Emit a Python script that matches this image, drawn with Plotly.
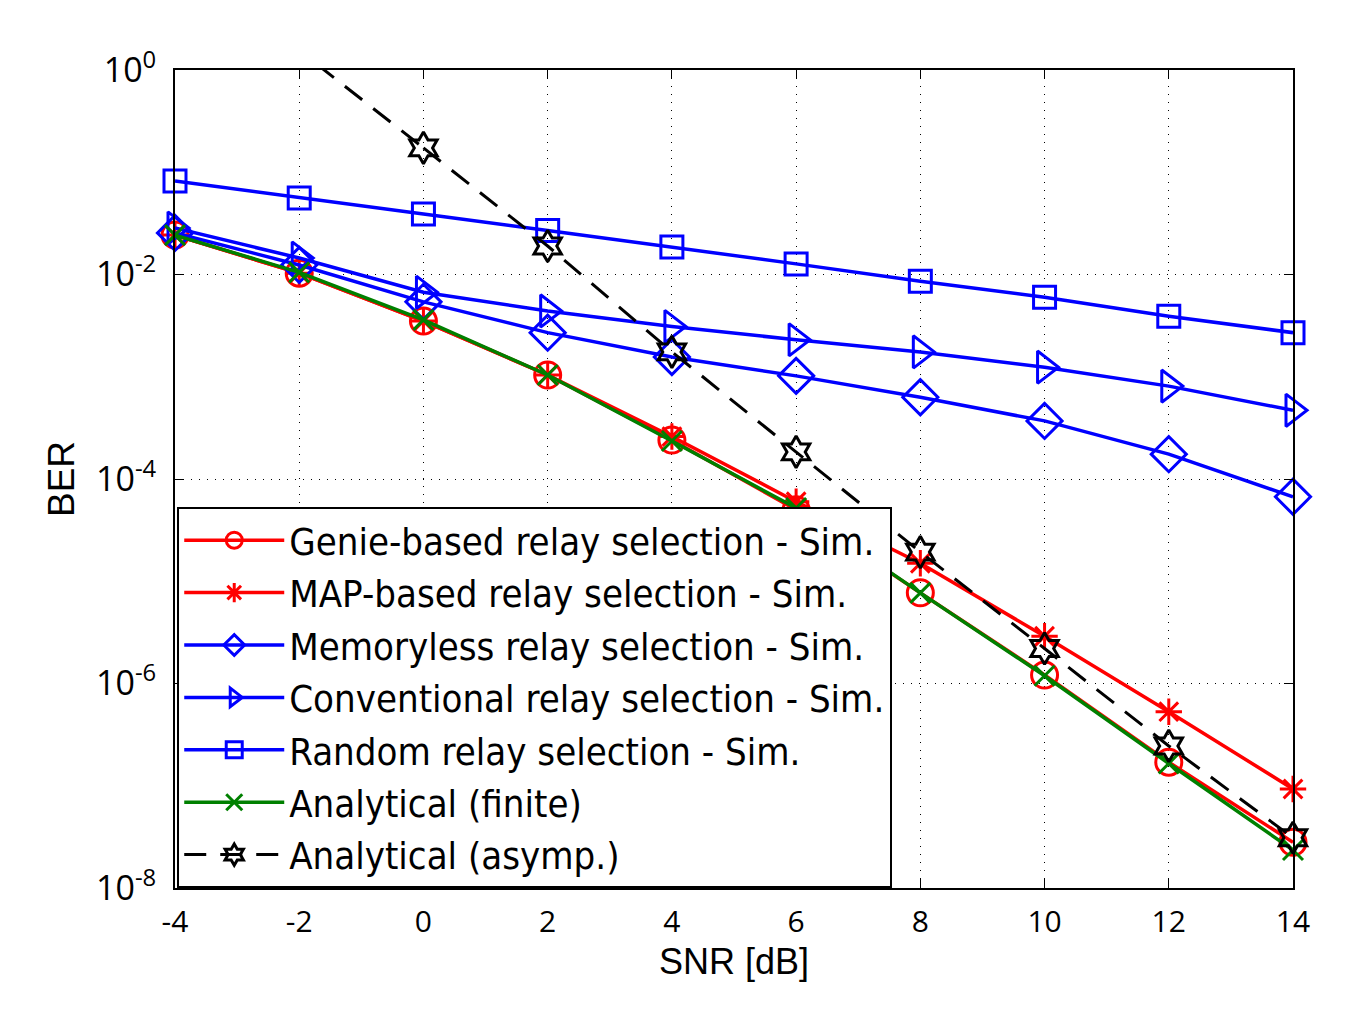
import plotly.graph_objects as go

snr = [-4, -2, 0, 2, 4, 6, 8, 10, 12, 14]

ber_genie = [0.0243, 0.0103, 0.0035, 0.00104, 2.4e-4, 5.0e-5, 7.7e-6, 1.21e-6, 1.7e-7, 2.8e-8]
ber_map = [0.0243, 0.0103, 0.0035, 0.00104, 2.6e-4, 6.0e-5, 1.5e-5, 2.9e-6, 5.3e-7, 9.3e-8]
ber_memoryless = [0.0255, 0.0124, 0.0054, 0.0027, 0.00156, 0.00102, 6.3e-4, 3.7e-4, 1.75e-4, 6.7e-5]
ber_conventional = [0.0285, 0.0145, 0.0067, 0.0044, 0.0031, 0.0023, 0.00175, 0.00124, 8.1e-4, 4.7e-4]
ber_random = [0.082, 0.056, 0.039, 0.027, 0.0186, 0.0127, 0.0086, 0.0060, 0.0039, 0.0027]
ber_finite = [0.0243, 0.0105, 0.0036, 0.00104, 2.35e-4, 5.2e-5, 7.7e-6, 1.19e-6, 1.65e-7, 2.35e-8]
ber_asymp = [14.0, 1.57, 0.173, 0.019, 0.00175, 1.84e-4, 1.93e-5, 2.2e-6, 2.45e-7, 3.1e-8]

names = [
    "Genie-based relay selection - Sim.",
    "MAP-based relay selection - Sim.",
    "Memoryless relay selection - Sim.",
    "Conventional relay selection - Sim.",
    "Random relay selection - Sim.",
    "Analytical (finite)",
    "Analytical (asymp.)",
]

ytick_vals = [1, 1e-2, 1e-4, 1e-6, 1e-8]
ytick_text = ["10<sup>0</sup>", "10<sup>-2</sup>", "10<sup>-4</sup>", "10<sup>-6</sup>", "10<sup>-8</sup>"]
xtick_vals = [-4, -2, 0, 2, 4, 6, 8, 10, 12, 14]
xtick_text = ["-4", "-2", "0", "2", "4", "6", "8", "10", "12", "14"]

RED = "#ff0000"
BLUE = "#0000ff"
GREEN = "#008000"
BLACK = "#000000"

series = [
    (ber_genie, RED, "circle-open", 26),
    (ber_map, RED, "asterisk-open", 22),
    (ber_memoryless, BLUE, "diamond-open", 27),
    (ber_conventional, BLUE, "triangle-right-open", 28),
    (ber_random, BLUE, "square-open", 22),
    (ber_finite, GREEN, "x-thin-open", 20),
]

fig = go.Figure()
for (vals, color, sym, msize), name in zip(series, names[:6]):
    fig.add_trace(go.Scatter(
        x=snr, y=vals, name=name, mode="lines+markers", cliponaxis=False,
        line=dict(color=color, width=3.5),
        marker=dict(symbol=sym, size=msize, color=color, line=dict(color=color, width=3)),
    ))

# asymptotic curve: part above the top of the axes (clipped line only)
fig.add_trace(go.Scatter(
    x=snr[:3], y=ber_asymp[:3], mode="lines", showlegend=False, cliponaxis=True,
    line=dict(color=BLACK, width=3, dash="22px,14px"), hoverinfo="skip",
))
fig.add_trace(go.Scatter(
    x=snr[2:], y=ber_asymp[2:], name=names[6], mode="lines+markers", cliponaxis=False,
    line=dict(color=BLACK, width=3, dash="22px,14px"),
    marker=dict(symbol="hexagram-open", size=24, color=BLACK, line=dict(color=BLACK, width=3)),
))

fig.update_layout(
    width=1366, height=1030,
    paper_bgcolor="white", plot_bgcolor="white",
    margin=dict(l=175, r=73, t=70, b=142),
    showlegend=True,
    legend=dict(
        x=0.002, y=0, xanchor="left", yanchor="bottom",
        bgcolor="white", bordercolor="black", borderwidth=2,
        font=dict(family="Liberation Sans Narrow, DejaVu Sans Condensed, Arial Narrow, sans-serif", size=38, color="black"),
        tracegroupgap=0, itemwidth=100,
    ),
)

fig.update_xaxes(
    range=[-4, 14], tickvals=xtick_vals, ticktext=xtick_text,
    showline=True, linecolor="black", linewidth=2, mirror="ticks",
    ticks="inside", ticklen=9, tickwidth=1, tickcolor="black",
    showgrid=True, gridcolor="black", gridwidth=1, griddash="1px,7px",
    zeroline=False, ticklabelstandoff=6,
    tickfont=dict(family="Open Sans, sans-serif", size=30, color="black"),
    title=dict(text="SNR [dB]", font=dict(family="Liberation Sans, Arial, sans-serif", size=36, color="black"), standoff=8),
)
fig.update_yaxes(
    type="log", range=[-8, 0], tickvals=ytick_vals, ticktext=ytick_text,
    showline=True, linecolor="black", linewidth=2, mirror="ticks",
    ticks="inside", ticklen=9, tickwidth=1, tickcolor="black",
    showgrid=True, gridcolor="black", gridwidth=1, griddash="1px,7px",
    zeroline=False, ticklabelstandoff=10,
    tickfont=dict(family="Open Sans, sans-serif", size=34, color="black"),
    title=dict(text="BER", font=dict(family="Liberation Sans, Arial, sans-serif", size=37, color="black"), standoff=10),
)

fig.write_html("out.html")
